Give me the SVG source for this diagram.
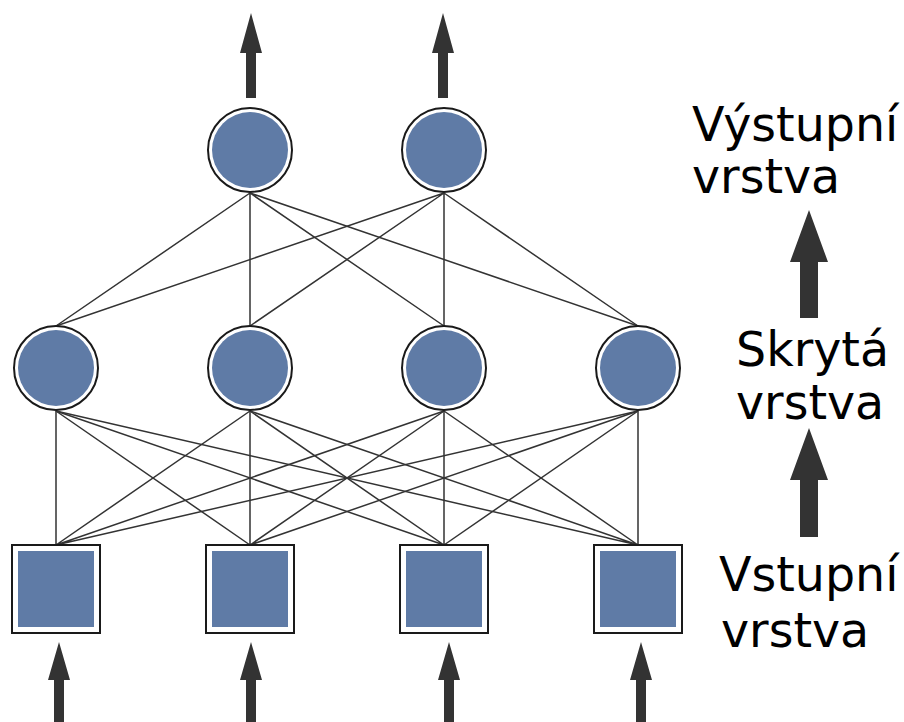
<svg xmlns="http://www.w3.org/2000/svg" width="904" height="722" viewBox="0 0 904 722">
<style>
.ring{fill:#fff;stroke:#1a1a1a;stroke-width:2}
.core{fill:#5f7ba6}
.edge{stroke:#333;stroke-width:1.5;fill:none}
.arr{fill:#333}
.lbl{font-family:"DejaVu Sans",sans-serif;font-size:47.5px;fill:#000}
</style>
<defs>
<g id="neuron"><circle class="ring" r="42"/><circle class="core" r="38"/></g>
<g id="inp"><rect class="ring" x="-44" y="-44" width="88" height="88"/><rect class="core" x="-38" y="-38" width="76" height="76"/></g>
</defs>
<rect width="904" height="722" fill="#fff"/>
<g id="connectors">
<path class="edge" d="M56,326L250,193M250,326L250,193M444,326L250,193M638,326L250,193"/>
<path class="edge" d="M56,326L444,193M250,326L444,193M444,326L444,193M638,326L444,193"/>
<path class="edge" d="M56,545L56,411M56,545L250,411M56,545L444,411M56,545L638,411"/>
<path class="edge" d="M250,545L56,411M250,545L250,411M250,545L444,411M250,545L638,411"/>
<path class="edge" d="M444,545L56,411M444,545L250,411M444,545L444,411M444,545L638,411"/>
<path class="edge" d="M638,545L56,411M638,545L250,411M638,545L444,411M638,545L638,411"/>
<path class="arr" d="M246,98V53H240L251,13L262,53H256V98Z"/>
<path class="arr" d="M438,98V53H432L443,13L454,53H448V98Z"/>
<path class="arr" d="M54,722V680H48L59,642L70,680H64V722Z"/>
<path class="arr" d="M246,722V680H240L251,642L262,680H256V722Z"/>
<path class="arr" d="M444,722V680H438L449,642L460,680H454V722Z"/>
<path class="arr" d="M636,722V680H630L641,642L652,680H646V722Z"/>
<path class="arr" d="M800,318V262H790L809,210L828,262H818V318Z"/>
<path class="arr" d="M800,537V480H790L809,428L828,480H818V537Z"/>
</g>
<g id="out1"><use href="#neuron" x="250" y="150"/></g>
<g id="out2"><use href="#neuron" x="444" y="150"/></g>
<g id="hid1"><use href="#neuron" x="56" y="368"/></g>
<g id="hid2"><use href="#neuron" x="250" y="368"/></g>
<g id="hid3"><use href="#neuron" x="444" y="368"/></g>
<g id="hid4"><use href="#neuron" x="638" y="368"/></g>
<g id="in1"><use href="#inp" x="56" y="589"/></g>
<g id="in2"><use href="#inp" x="250" y="589"/></g>
<g id="in3"><use href="#inp" x="444" y="589"/></g>
<g id="in4"><use href="#inp" x="638" y="589"/></g>
<g id="labels">
<text class="lbl" x="692" y="141">Výstupní</text>
<text class="lbl" x="692" y="193">vrstva</text>
<text class="lbl" x="736" y="366">Skrytá</text>
<text class="lbl" x="736" y="419">vrstva</text>
<text class="lbl" x="719" y="591">Vstupní</text>
<text class="lbl" x="721" y="647">vrstva</text>
</g>
</svg>
